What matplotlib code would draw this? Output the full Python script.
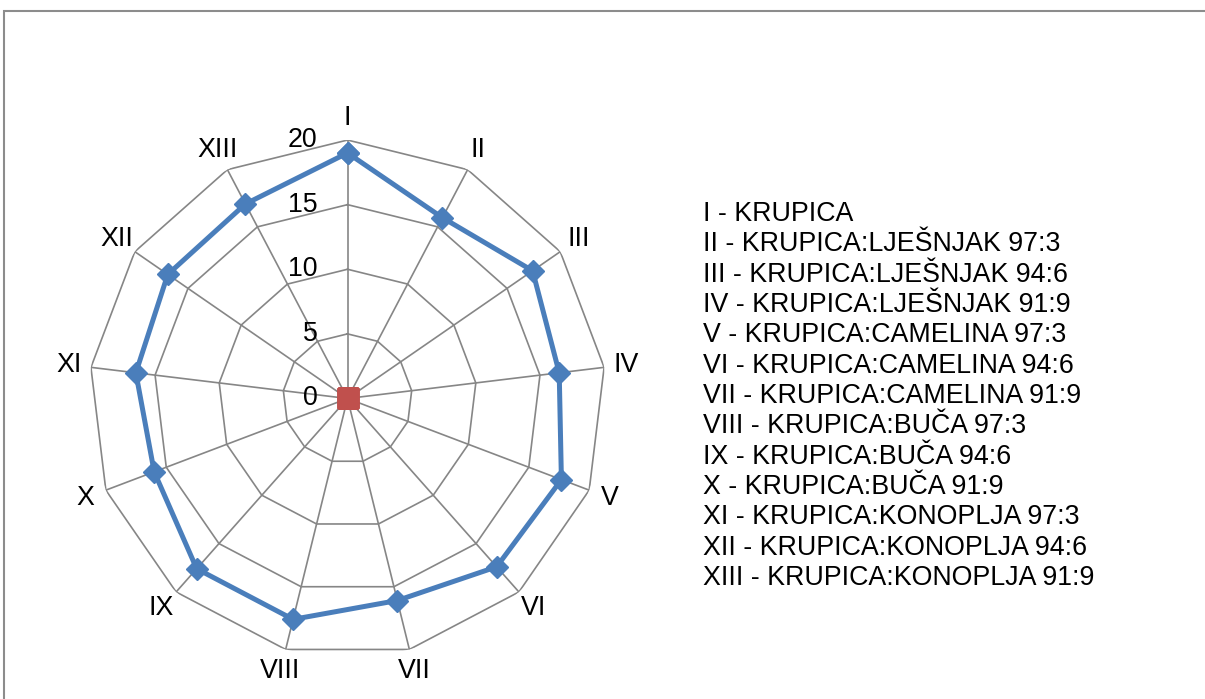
import numpy as np
import matplotlib.pyplot as plt
from matplotlib.patches import Rectangle

plt.rcParams['font.family'] = ['Liberation Sans', 'DejaVu Sans']

categories = ['I', 'II', 'III', 'IV', 'V', 'VI', 'VII', 'VIII', 'IX', 'X', 'XI', 'XII', 'XIII']
values = [19.0, 15.8, 17.4, 16.5, 17.7, 17.4, 16.1, 17.6, 17.6, 16.0, 16.5, 16.9, 17.0]
zero_series = [0] * 13
rings = [5, 10, 15, 20]
tick_labels = ['0', '5', '10', '15', '20']
names = ['KRUPICA',
         'KRUPICA:LJEŠNJAK 97:3',
         'KRUPICA:LJEŠNJAK 94:6',
         'KRUPICA:LJEŠNJAK 91:9',
         'KRUPICA:CAMELINA 97:3',
         'KRUPICA:CAMELINA 94:6',
         'KRUPICA:CAMELINA 91:9',
         'KRUPICA:BUČA 97:3',
         'KRUPICA:BUČA 94:6',
         'KRUPICA:BUČA 91:9',
         'KRUPICA:KONOPLJA 97:3',
         'KRUPICA:KONOPLJA 94:6',
         'KRUPICA:KONOPLJA 91:9']

n = len(categories)
theta = np.arange(n) * 2 * np.pi / n
theta_closed = np.append(theta, theta[0])
fs = 19.3

fig = plt.figure(figsize=(12.05, 6.99), dpi=100)

# outer chart border (runs off the right and bottom edge)
fig.patches.append(Rectangle((4 / 1205, -0.1), 2, 1 - 11 / 699 + 0.1,
                             transform=fig.transFigure, fill=False,
                             edgecolor='#8c8c8c', lw=1.5))

ax = fig.add_axes([0.0739, 0.0601, 0.4290, 0.7396], projection='polar')
ax.set_theta_zero_location('N')
ax.set_theta_direction(-1)
ax.set_ylim(0, 20)
ax.grid(False)
ax.set_xticks([])
ax.set_yticks([])
ax.spines['polar'].set_visible(False)
ax.patch.set_visible(False)

grid_col = '#868686'
for r in rings:
    ax.plot(theta_closed, [r] * (n + 1), color=grid_col, lw=1.2, zorder=1)
for t in theta:
    ax.plot([t, t], [0, 20], color=grid_col, lw=1.2, zorder=1)

ax.plot(theta_closed, values + values[:1], color='#4A7EBB', lw=3.6,
        marker='D', markersize=11, zorder=3)
ax.plot(theta_closed, zero_series + zero_series[:1], color='#C0504D', lw=0,
        marker='s', markersize=14, zorder=4)

for t, lab in zip(theta, categories):
    ax.text(t, 21.7, lab, ha='center', va='center', fontsize=fs)

# scale labels along the first spoke
for i, lab in enumerate(tick_labels):
    r = i * 5
    ax.annotate(lab, xy=(0, r), xytext=(-30, 0), textcoords='offset pixels',
                ha='right', va='center', fontsize=fs)

for i, (cat, name) in enumerate(zip(categories, names)):
    fig.text(703 / 1205, 1 - (214 + i * 30.33) / 699, f'{cat} - {name}',
             ha='left', va='center', fontsize=fs)

fig.savefig('out.png', dpi=100)
